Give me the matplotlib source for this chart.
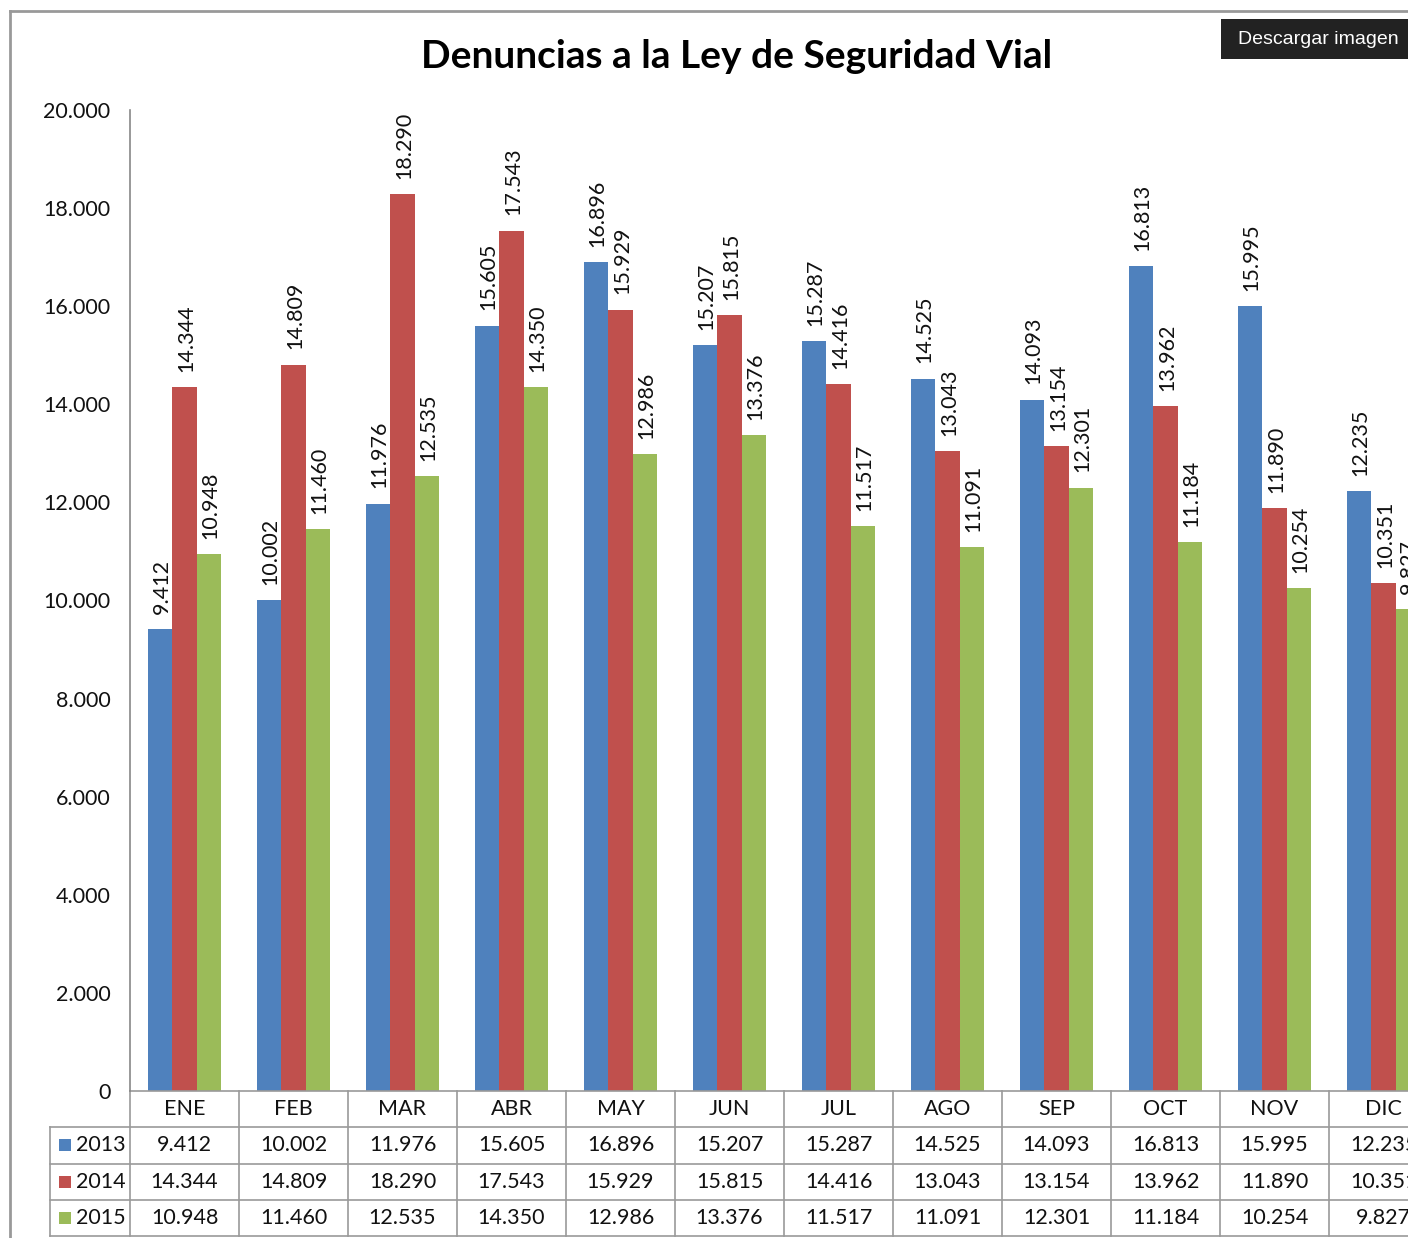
import matplotlib
matplotlib.use("Agg")
import matplotlib.pyplot as plt
from matplotlib.patches import Rectangle
from matplotlib.lines import Line2D
import matplotlib.transforms as mtransforms
import numpy as np

months = ['ENE', 'FEB', 'MAR', 'ABR', 'MAY', 'JUN', 'JUL', 'AGO', 'SEP', 'OCT', 'NOV', 'DIC']
years = ['2013', '2014', '2015']
v2013 = [9412, 10002, 11976, 15605, 16896, 15207, 15287, 14525, 14093, 16813, 15995, 12235]
v2014 = [14344, 14809, 18290, 17543, 15929, 15815, 14416, 13043, 13154, 13962, 11890, 10351]
v2015 = [10948, 11460, 12535, 14350, 12986, 13376, 11517, 11091, 12301, 11184, 10254, 9827]
colors = ['#4F81BD', '#C0504D', '#9BBB59']
yticks = [0, 2000, 4000, 6000, 8000, 10000, 12000, 14000, 16000, 18000, 20000]

def fmt(v):
    return '{:,}'.format(v).replace(',', '.')

plt.rcParams['font.family'] = ['Lato', 'DejaVu Sans']

W, H = 1408, 1238
fig = plt.figure(figsize=(W / 100, H / 100), dpi=100)

# axes box in pixels (right side runs past the image edge)
ax_l, ax_r, ax_t, ax_b = 130, 1438, 110, 1091
ax = fig.add_axes([ax_l / W, (H - ax_b) / H, (ax_r - ax_l) / W, (ax_b - ax_t) / H])

series = [v2013, v2014, v2015]
x = np.arange(len(months))
bw = 0.223
for k, vals in enumerate(series):
    pos = x + (k - 1) * bw
    ax.bar(pos, vals, width=bw, color=colors[k], edgecolor='none', zorder=2)
    for xi, v in zip(pos, vals):
        ax.annotate(fmt(v), (xi, v), xytext=(1, 11), textcoords='offset points',
                    rotation=90, ha='center', va='bottom', fontsize=15.5,
                    color='#111111', annotation_clip=False, clip_on=False)

ax.set_xlim(-0.5, len(months) - 0.5)
ax.set_ylim(0, 20000)
ax.set_yticks(yticks)
ax.set_yticklabels([fmt(t) for t in yticks], fontsize=15.5, color='#111111')
ax.tick_params(axis='y', length=0, pad=14)
ax.set_xticks([])
for s in ['top', 'right', 'bottom']:
    ax.spines[s].set_visible(False)
ax.spines['left'].set_color('#888888')
ax.spines['left'].set_linewidth(1.2)

# data table under the axis
px = 1.0 / (ax_b - ax_t)  # one pixel in axes-y units
row_h = 36.3 * px
tr = mtransforms.blended_transform_factory(ax.transData, ax.transAxes)
grid_c = '#9a9a9a'
label_left = -0.5 - 80 / 109.0

def hline(x0, x1, y):
    ax.add_line(Line2D([x0, x1], [y, y], transform=tr, color=grid_c, lw=1.2, clip_on=False))

def vline(xx, y0, y1):
    ax.add_line(Line2D([xx, xx], [y0, y1], transform=tr, color=grid_c, lw=1.2, clip_on=False))

n_rows = 1 + len(years)
bottom = -n_rows * row_h
hline(-0.5, len(months) - 0.5, 0)
for r in range(1, n_rows + 1):
    hline(label_left, len(months) - 0.5, -r * row_h)
vline(label_left, -row_h, bottom)
for i in range(len(months) + 1):
    vline(i - 0.5, 0, bottom)

for i, m in enumerate(months):
    ax.text(i, -0.5 * row_h, m, transform=tr, ha='center', va='center',
            fontsize=15.5, color='#111111', clip_on=False)
for r, (yr, vals) in enumerate(zip(years, series)):
    yc = -(r + 1.5) * row_h
    ax.add_patch(Rectangle((label_left + 0.08, yc - 6 * px), 0.11, 12 * px, transform=tr,
                           facecolor=colors[r], edgecolor='none', clip_on=False))
    ax.text(label_left + 0.24, yc, yr, transform=tr, ha='left', va='center',
            fontsize=15.5, color='#111111', clip_on=False)
    for i, v in enumerate(vals):
        ax.text(i, yc, fmt(v), transform=tr, ha='center', va='center',
                fontsize=15.5, color='#111111', clip_on=False)

fig.text(737 / W, 1 - 57 / H, 'Denuncias a la Ley de Seguridad Vial', ha='center', va='center',
         fontsize=28, fontweight='bold', color='black')

# export button
fig.patches.append(Rectangle((1221 / W, 1 - 59 / H), 200 / W, 40 / H, transform=fig.transFigure,
                             facecolor='#222222', edgecolor='none'))
fig.text(1238 / W, 1 - 40 / H, 'Descargar imagen', ha='left', va='center', fontsize=14,
         color='white', family='Liberation Sans')

# outer frame
fig.lines.append(Line2D([10 / W, 1], [1 - 11 / H, 1 - 11 / H], transform=fig.transFigure,
                        color='#999999', lw=2))
fig.lines.append(Line2D([10 / W, 10 / W], [1 - 11 / H, 0], transform=fig.transFigure,
                        color='#999999', lw=2))

fig.savefig('out.png', dpi=100, facecolor='white')
